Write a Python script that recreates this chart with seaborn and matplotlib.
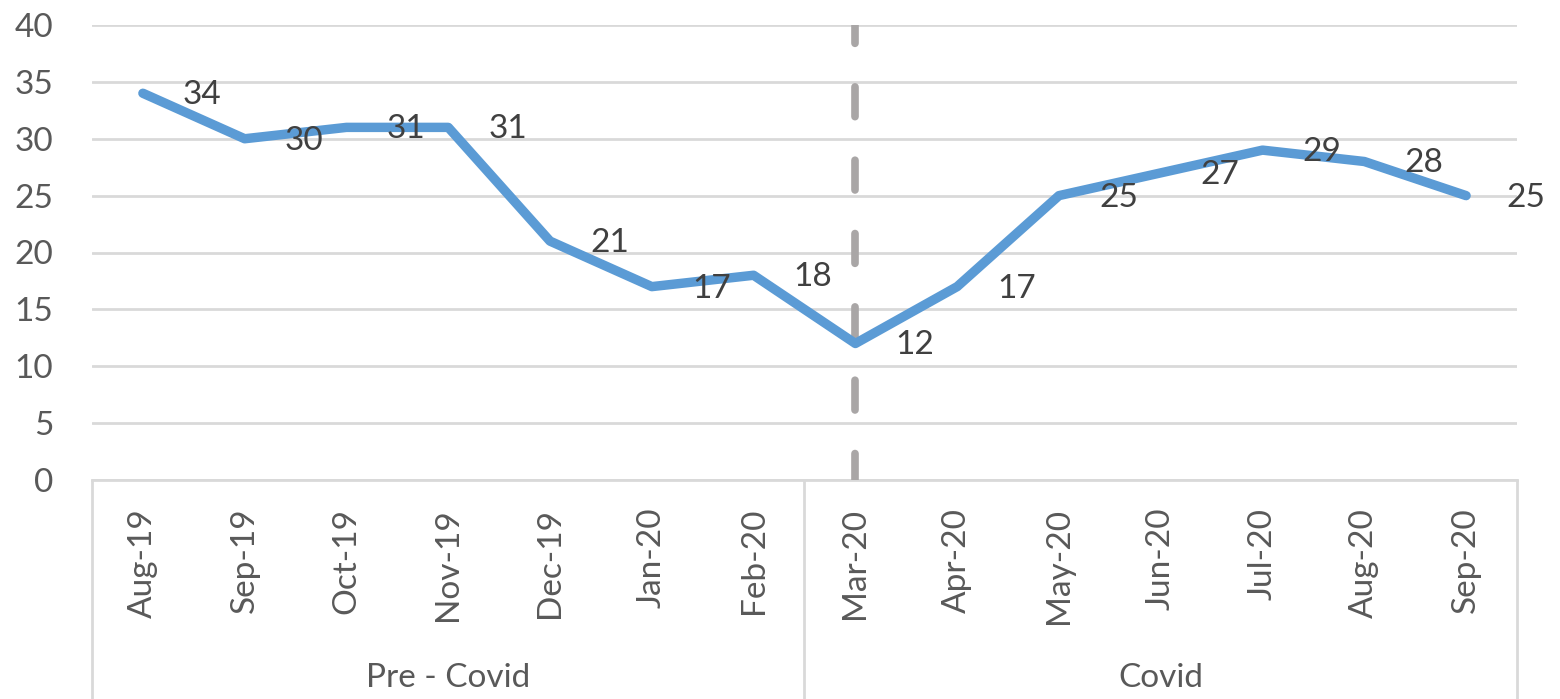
import numpy as np
import pandas as pd
import seaborn as sns
import matplotlib.pyplot as plt
import matplotlib.transforms as mtransforms

# --- DATA ---
months = ['Aug-19', 'Sep-19', 'Oct-19', 'Nov-19', 'Dec-19', 'Jan-20', 'Feb-20',
          'Mar-20', 'Apr-20', 'May-20', 'Jun-20', 'Jul-20', 'Aug-20', 'Sep-20']
values = [34, 30, 31, 31, 21, 17, 18, 12, 17, 25, 27, 29, 28, 25]
groups = ['Pre - Covid', 'Covid']
group_sizes = [7, 7]
covid_start = 'Mar-20'
y_ticks = [0, 5, 10, 15, 20, 25, 30, 35, 40]

LINE_COLOR = '#5B9BD5'
GRID_COLOR = '#D9D9D9'
TEXT_COLOR = '#595959'
LABEL_COLOR = '#404040'
DASH_COLOR = '#A9A6A6'

sns.set_theme(style='white')
plt.rcParams['font.family'] = ['Lato', 'DejaVu Sans']

df = pd.DataFrame({'Month': months, 'Value': values})
df['pos'] = np.arange(len(months))

fig = plt.figure(figsize=(15.6, 6.99), dpi=100)
ax = fig.add_axes([92 / 1560, (699 - 480) / 699, (1517 - 92) / 1560, 455 / 699])

# main line
sns.lineplot(data=df, x='pos', y='Value', ax=ax, color=LINE_COLOR, linewidth=6.8,
             solid_joinstyle='round', solid_capstyle='round', zorder=4, legend=False)

# dashed covid marker
x_covid = months.index(covid_start)
ax.plot([x_covid, x_covid], [y_ticks[-1], y_ticks[0]], color=DASH_COLOR, lw=5.5,
        linestyle=(1.5, (3.9, 5.7)), dash_capstyle='round', zorder=3)

# data labels to the right of the points
offset = mtransforms.offset_copy(ax.transData, fig=fig, x=40, y=-2, units='dots')
for p, v in zip(df['pos'], df['Value']):
    ax.text(p, v, str(v), transform=offset, ha='left', va='center',
            fontsize=24, color=LABEL_COLOR, zorder=5)

ax.set_xlim(-0.5, len(months) - 0.5)
ax.set_ylim(y_ticks[0], y_ticks[-1])
ax.set_yticks(y_ticks)
ax.set_yticklabels([str(t) for t in y_ticks], fontsize=24, color=TEXT_COLOR)
ax.tick_params(axis='y', length=0, pad=28)
ax.set_xticks(df['pos'])
ax.set_xticklabels(months, rotation=90, fontsize=24, color=TEXT_COLOR, va='top')
ax.tick_params(axis='x', length=0, pad=20)
ax.set_xlabel('')
ax.set_ylabel('')

ax.yaxis.grid(True, color=GRID_COLOR, linewidth=2)
ax.set_axisbelow(True)
for side in ['left', 'right', 'top']:
    ax.spines[side].set_visible(False)
ax.spines['bottom'].set_color(GRID_COLOR)
ax.spines['bottom'].set_linewidth(2)

# multi-level category box
xt = ax.get_xaxis_transform()
bounds = np.concatenate([[0], np.cumsum(group_sizes)]) - 0.5
for b in bounds:
    ax.plot([b, b], [0, -0.6], transform=xt, color=GRID_COLOR, lw=2, clip_on=False)
for g, lo, hi in zip(groups, bounds[:-1], bounds[1:]):
    ax.text((lo + hi) / 2, -0.436, g, transform=xt, ha='center', va='center',
            fontsize=24, color=TEXT_COLOR)

fig.savefig('out.png', dpi=100)
